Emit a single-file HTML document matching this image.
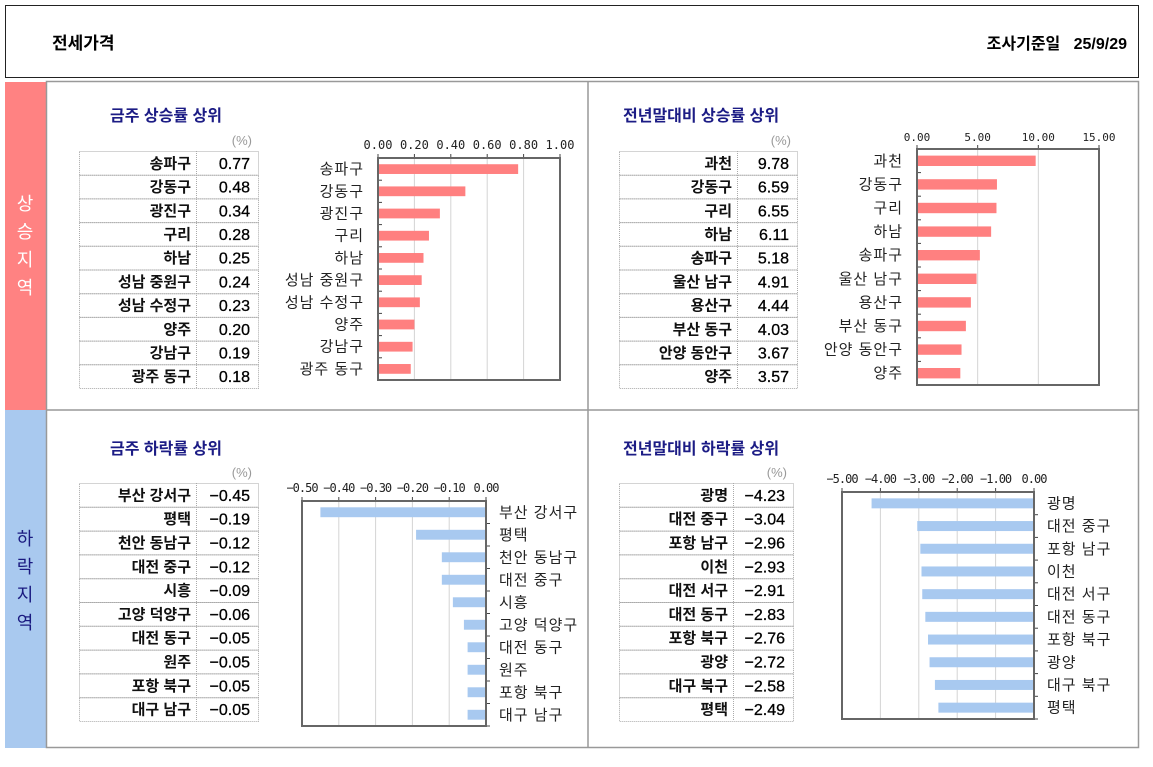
<!DOCTYPE html>
<html><head><meta charset="utf-8">
<style>
body{margin:0;background:#fff;font-family:"Liberation Sans","Noto Sans CJK KR",sans-serif;}
#root{position:relative;width:1153px;height:767px;overflow:hidden;}
svg{position:absolute;left:0;top:0;}
</style></head>
<body>
<div id="root">
<svg id="s" width="1153" height="767" viewBox="0 0 1153 767">
  <rect x="5.5" y="5.5" width="1133" height="72" fill="#fff" stroke="#222" stroke-width="1"/>
  <text x="52" y="49" font-size="17" font-weight="bold" fill="#000">전세가격</text>
  <text x="1127" y="49" font-size="16" font-weight="bold" fill="#000" text-anchor="end">조사기준일&#160;&#160;&#160;25/9/29</text>
  <rect x="5" y="82" width="41" height="328" fill="#ff8282"/>
  <rect x="5" y="410" width="41" height="338" fill="#a9c9ef"/>
  <g font-size="18" fill="#fff" text-anchor="middle">
    <text x="25" y="210">상</text><text x="25" y="238">승</text><text x="25" y="266">지</text><text x="25" y="294">역</text>
  </g>
  <g font-size="18" fill="#1a1a80" text-anchor="middle">
    <text x="25" y="545">하</text><text x="25" y="573">락</text><text x="25" y="601">지</text><text x="25" y="629">역</text>
  </g>
  <rect x="46.5" y="81.5" width="1092" height="666" fill="none" stroke="#999" stroke-width="1.5"/>
  <line x1="588" y1="82" x2="588" y2="748" stroke="#999" stroke-width="1.5"/>
  <line x1="46" y1="410" x2="1139" y2="410" stroke="#999" stroke-width="1.5"/>
  <g id="content"></g>
</svg>
</div>
<script>
// Panel 1: weekly rise top
const p1Cats = ["송파구","강동구","광진구","구리","하남","성남 중원구","성남 수정구","양주","강남구","광주 동구"];
const p1Vals = [0.77,0.48,0.34,0.28,0.25,0.24,0.23,0.20,0.19,0.18];
const p1Ticks = [0,0.2,0.4,0.6,0.8,1.0];
const p1TickLabels = ["0.00","0.20","0.40","0.60","0.80","1.00"];
// Panel 2: YTD rise top
const p2Cats = ["과천","강동구","구리","하남","송파구","울산 남구","용산구","부산 동구","안양 동안구","양주"];
const p2Vals = [9.78,6.59,6.55,6.11,5.18,4.91,4.44,4.03,3.67,3.57];
const p2Ticks = [0,5,10,15];
const p2TickLabels = ["0.00","5.00","10.00","15.00"];
// Panel 3: weekly fall top
const p3Cats = ["부산 강서구","평택","천안 동남구","대전 중구","시흥","고양 덕양구","대전 동구","원주","포항 북구","대구 남구"];
const p3Vals = [-0.45,-0.19,-0.12,-0.12,-0.09,-0.06,-0.05,-0.05,-0.05,-0.05];
const p3Ticks = [-0.5,-0.4,-0.3,-0.2,-0.1,0];
const p3TickLabels = ["−0.50","−0.40","−0.30","−0.20","−0.10","0.00"];
// Panel 4: YTD fall top
const p4Cats = ["광명","대전 중구","포항 남구","이천","대전 서구","대전 동구","포항 북구","광양","대구 북구","평택"];
const p4Vals = [-4.23,-3.04,-2.96,-2.93,-2.91,-2.83,-2.76,-2.72,-2.58,-2.49];
const p4Ticks = [-5,-4,-3,-2,-1,0];
const p4TickLabels = ["−5.00","−4.00","−3.00","−2.00","−1.00","0.00"];

const NS="http://www.w3.org/2000/svg";
const root=document.getElementById('content');
function el(tag,attrs,parent,txt){const e=document.createElementNS(NS,tag);for(const k in attrs)e.setAttribute(k,attrs[k]);if(txt!==undefined)e.textContent=txt;(parent||root).appendChild(e);return e;}

function panel(cfg){
  const g=el('g',{});
  
  
  const t=el('text',{x:cfg.titleX,y:cfg.titleY,'font-size':16,'font-weight':'bold',fill:'#1c1c85'},g,cfg.title);
  
  
  const u=el('text',{x:cfg.tR-6,y:cfg.tTop-6,'font-size':13,fill:'#999','text-anchor':'end'},g,'(%)');
  
  
  const tb=el('g',{},g);
  
  
  const n=cfg.cats.length, rh=cfg.rowH;
  for(let i=0;i<n;i++){
    const y=cfg.tTop+i*rh;
    el('rect',{x:cfg.tL+0.5,y:y+0.5,width:cfg.tR-cfg.tL,height:rh,fill:'none',stroke:'#aaa','stroke-dasharray':'1,1'},tb);
    const nm=el('text',{x:cfg.tSplit-5,y:y+rh/2+5.5,'font-size':15,'font-weight':'bold','text-anchor':'end',fill:'#111'},tb,cfg.cats[i]);
    
    
    const vv=el('text',{x:cfg.tR-8,y:y+rh/2+6,'font-size':16,'text-anchor':'end',fill:'#000','stroke':'#000','stroke-width':0.3},tb,cfg.vals[i].toFixed(2).replace('-','−'));
    
    
  }
  el('line',{x1:cfg.tSplit+0.5,y1:cfg.tTop,x2:cfg.tSplit+0.5,y2:cfg.tTop+n*rh,stroke:'#aaa','stroke-dasharray':'1,1'},tb);
  const c=el('g',{},g);
  
  
  const {pL,pR,pT,pB}=cfg, d0=cfg.ticks[0], d1=cfg.ticks[cfg.ticks.length-1];
  const xs=v=>pL+(v-d0)/(d1-d0)*(pR-pL);
  cfg.ticks.forEach((tv,i)=>{
    const x=xs(tv);
    el('line',{x1:x,y1:pT,x2:x,y2:pB,stroke:'#d4d4d4'},c);
    el('line',{x1:x,y1:pT-4,x2:x,y2:pT,stroke:'#444'},c);
    const tl=el('text',{x:x,y:cfg.tickY,'font-size':cfg.tickFs,'text-anchor':'middle',fill:'#222','font-family':'"DejaVu Sans Mono","Liberation Mono",monospace','letter-spacing':cfg.ls||0},c,cfg.tickLabels[i]);
    
    
  });
  const band=(pB-pT)/n, zero=xs(0);
  for(let i=0;i<n;i++){
    const v=cfg.vals[i], x=xs(v), yc=pT+band*(i+0.5), bh=band*0.44;
    const b=el('rect',{x:Math.min(x,zero),y:yc-bh/2,width:Math.abs(x-zero),height:bh,fill:cfg.color},c);
    
    
    const tickX=cfg.neg?pR:pL;
    el('line',{x1:tickX,y1:pT+band*(i+1),x2:tickX+4,y2:pT+band*(i+1),stroke:'#444'},c);
    const lx=cfg.neg?pR+13:pL-14;
    const cl=el('text',{x:lx,y:yc+5,'font-size':15,'text-anchor':cfg.neg?'start':'end',fill:'#222','letter-spacing':'1'},c,cfg.cats[i]);
    
    
  }
  el('rect',{x:pL,y:pT,width:pR-pL,height:pB-pT,fill:'none',stroke:'#666','stroke-width':2},c);
}

panel({name:'weekly-rise-panel',title:'금주 상승률 상위',titleX:110,titleY:121,cats:p1Cats,vals:p1Vals,ticks:p1Ticks,tickLabels:p1TickLabels,
  tL:79,tR:258,tSplit:196,tTop:151,rowH:23.7,pL:378,pR:560,pT:158,pB:380,tickY:149,tickFs:12,color:'#ff8080',neg:false});
panel({name:'ytd-rise-panel',title:'전년말대비 상승률 상위',titleX:623,titleY:121,cats:p2Cats,vals:p2Vals,ticks:p2Ticks,tickLabels:p2TickLabels,
  tL:619,tR:797,tSplit:737,tTop:151,rowH:23.7,pL:917,pR:1099,pT:149,pB:385,tickY:141,tickFs:11,color:'#ff8080',neg:false});
panel({name:'weekly-fall-panel',title:'금주 하락률 상위',titleX:110,titleY:454,cats:p3Cats,vals:p3Vals,ticks:p3Ticks,tickLabels:p3TickLabels,
  tL:79,tR:258,tSplit:196,tTop:483,rowH:23.8,pL:302,pR:486,pT:501,pB:726,tickY:492,tickFs:12,color:'#a8c9f0',neg:true,ls:-1});
panel({name:'ytd-fall-panel',title:'전년말대비 하락률 상위',titleX:623,titleY:454,cats:p4Cats,vals:p4Vals,ticks:p4Ticks,tickLabels:p4TickLabels,
  tL:619,tR:793,tSplit:733,tTop:483,rowH:23.8,pL:842,pR:1034,pT:492,pB:719,tickY:483,tickFs:12,color:'#a8c9f0',neg:true,ls:-1});
</script>
</body></html>
